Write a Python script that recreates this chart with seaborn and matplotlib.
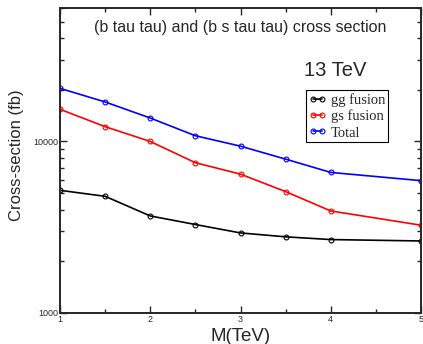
import pandas as pd
import matplotlib
matplotlib.use("Agg")
import matplotlib.pyplot as plt
import matplotlib.ticker as mticker
import seaborn as sns

# data (fb)
mass = [1, 1.5, 2, 2.5, 3, 3.5, 4, 5]
gg_fusion = [5190, 4790, 3680, 3280, 2930, 2780, 2680, 2630]
gs_fusion = [15400, 12200, 10000, 7520, 6450, 5100, 3935, 3250]
total = [20400, 17000, 13700, 10800, 9390, 7890, 6600, 5910]
labels = ["gg fusion", "gs fusion", "Total"]
colors = ["black", "red", "blue"]

df = pd.DataFrame({
    "M": mass * 3,
    "xsec": gg_fusion + gs_fusion + total,
    "process": [l for l in labels for _ in mass],
})

sns.set_style("ticks")
plt.rcParams["font.family"] = ["Liberation Sans", "DejaVu Sans"]

fig = plt.figure(figsize=(4.23, 3.44), dpi=100)
ax = fig.add_axes([60 / 423, 1 - 313 / 344, 361 / 423, 305 / 344])

sns.lineplot(data=df, x="M", y="xsec", hue="process", palette=colors,
             marker="o", markersize=3.5, linewidth=1.2, legend=False, ax=ax)
for line, c in zip(ax.lines, colors):
    line.set_markeredgecolor(c)
    line.set_markerfacecolor("none")
    line.set_markeredgewidth(0.8)

ax.set_yscale("log")
ax.set_xlim(1, 5)
ax.set_ylim(1000, 60000)
ax.xaxis.set_major_locator(mticker.MultipleLocator(1))
ax.xaxis.set_minor_locator(mticker.MultipleLocator(0.5))
ax.yaxis.set_major_locator(mticker.LogLocator(base=10))
ax.yaxis.set_minor_locator(mticker.LogLocator(base=10, subs=range(2, 10)))
ax.yaxis.set_major_formatter(mticker.FormatStrFormatter("%d"))
ax.yaxis.set_minor_formatter(mticker.NullFormatter())
ax.tick_params(which="both", direction="in", top=True, right=True,
               labelsize=6.5, pad=1.5, width=1)
ax.tick_params(which="major", length=5)
ax.tick_params(which="minor", length=3)
for s in ax.spines.values():
    s.set_linewidth(1.4)

ax.set_xlabel("M(TeV)", fontsize=13.5, labelpad=3)
ax.set_ylabel("Cross-section (fb)", fontsize=12)
ax.yaxis.set_label_coords(-(60 - 24) / 361, (313 - 155) / 305)

ax.text(0.5, 0.935, "(b tau tau) and (b s tau tau) cross section",
        transform=ax.transAxes, ha="center", va="center", fontsize=11.5)
ax.text((335 - 60) / 361, (313 - 70) / 305, "13 TeV", transform=ax.transAxes,
        ha="center", va="center", fontsize=14.5)

leg = ax.legend(ax.lines, labels, numpoints=2, loc="upper left",
                bbox_to_anchor=((306 - 60) / 361, (313 - 90) / 305),
                prop={"family": "Liberation Serif", "size": 10.5},
                handlelength=1.2, handletextpad=0.3, labelspacing=0.2,
                borderpad=0.2, borderaxespad=0, fancybox=False,
                framealpha=1)
leg.get_frame().set_edgecolor("black")
leg.get_frame().set_linewidth(0.8)

fig.savefig("out.png", dpi=100)
